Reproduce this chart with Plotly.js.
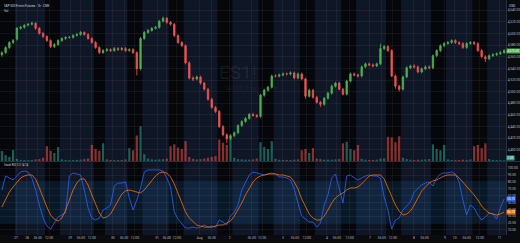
<!DOCTYPE html>
<html><head><meta charset="utf-8">
<script src="https://cdn.plot.ly/plotly-3.0.1.min.js"></script>
<style>html,body{margin:0;padding:0;background:#0a0b0f;}#chart{width:520px;height:243px;}</style>
</head><body><div id="chart"></div>
<script>
// 2h bars, ES1!
const opens = [4563.5,4567.0,4575.75,4584.5,4590.0,4608.75,4610.5,4614.0,4615.75,4617.5,
4608.75,4600.0,4594.75,4587.75,4577.5,4581.0,4587.75,4591.25,4593.0,4593.25,
4596.5,4598.25,4601.75,4598.25,4591.25,4584.5,4575.75,4567.0,4570.5,4572.25,
4570.5,4574.0,4572.25,4574.0,4570.5,4572.25,4567.0,4539.25,4591.25,4601.75,
4605.25,4608.75,4610.5,4621.0,4626.0,4619.0,4615.75,4596.5,4584.5,4579.0,
4549.5,4523.5,4521.75,4525.25,4514.75,4504.25,4487.0,4473.0,4466.0,4440.0,
4426.0,4419.25,4424.5,4429.5,4441.75,4448.75,4454.0,4461.0,4459.25,4457.5,
4494.0,4502.5,4507.75,4527.0,4526.75,4528.75,4530.5,4530.25,4532.25,4523.5,
4530.5,4521.75,4492.25,4502.5,4490.5,4481.75,4478.25,4488.75,4497.5,4509.5,
4514.75,4504.25,4495.75,4518.25,4530.5,4528.75,4527.0,4542.75,4547.75,4546.0,
4544.25,4547.75,4574.0,4577.5,4570.5,4527.0,4509.5,4504.25,4525.25,4541.0,
4544.25,4542.5,4533.75,4539.25,4542.5,4541.0,4561.75,4570.5,4579.0,4582.75,
4584.5,4587.75,4584.25,4582.5,4575.75,4582.75,4584.5,4582.5,4570.5,4560.0,
4556.5,4561.75,4563.5,4565.25,4567.0];
const highs = [4569.5,4578,4587,4590.5,4611,4613,4616.5,4618,4620,4619.5,
4611,4602.5,4597,4590,4583.5,4590,4593.5,4595.5,4595.5,4598.5,
4600.5,4604,4603.5,4600.5,4593.5,4587,4578,4573,4575,4574.5,
4576.5,4576.5,4576.5,4576.5,4574.5,4574.5,4569.5,4594,4604,4607.5,
4611,4613,4623.5,4629,4628,4621.5,4618,4598.5,4587,4581.5,
4552,4526.5,4527.5,4527.5,4517,4506.5,4489.5,4475.5,4468.5,4442.5,
4428.5,4427,4432,4444,4451,4456.5,4463.5,4463.5,4461.5,4496.5,
4505,4510,4529.5,4530,4531,4533,4533,4535,4534.5,4533,
4533,4524,4505,4505,4493,4484,4491,4500,4512,4517,
4517,4506.5,4520.5,4533,4533,4531,4545,4550,4550,4548.5,
4550,4582.5,4580,4580,4573,4529.5,4512,4527.5,4543.5,4546.5,
4547,4545,4541.5,4545,4545,4564,4573,4581.5,4585,4587,
4590,4590,4586.5,4585,4585,4587,4587,4585,4573,4562.5,
4564,4566,4567.5,4569.5,4573];
const lows = [4560,4565,4573.5,4582,4587.5,4606.5,4608,4612,4613.5,4606,
4598,4592,4585.5,4575,4575,4578.5,4585.5,4589,4591,4591,
4594.5,4596,4596,4589,4582,4573.5,4564.5,4565,4568.5,4568,
4568.5,4570,4570,4568.5,4568.5,4564.5,4528,4536.5,4589,4599.5,
4603,4606.5,4608,4619,4616.5,4613.5,4594,4582,4576.5,4547,
4521,4518,4519.5,4512,4502,4484.5,4470.5,4463.5,4437.5,4423.5,
4412,4417,4422,4427,4439.5,4446.5,4452,4457,4455,4455,
4491.5,4500,4505.5,4524.5,4524.5,4526.5,4528,4528,4521,4521,
4519.5,4488,4490,4488,4479.5,4474,4476,4486.5,4495,4507,
4502,4493.5,4493.5,4516,4526.5,4524.5,4524.5,4540.5,4543.5,4542,
4542,4545.5,4571.5,4568,4525,4505,4500,4502,4523,4538.5,
4540,4531.5,4531.5,4537,4538.5,4538.5,4559.5,4568,4576.5,4580.5,
4582,4582,4580,4573.5,4573.5,4580.5,4580,4568,4557.5,4551,
4554,4559.5,4561,4563,4565];
const closes = [4567.0,4575.75,4584.5,4587.75,4608.75,4610.5,4614.0,4615.75,4617.5,4608.75,
4600.0,4594.75,4587.75,4577.5,4581.0,4587.75,4591.25,4593.0,4593.25,4596.5,
4598.25,4601.75,4598.25,4591.25,4584.5,4575.75,4567.0,4570.5,4572.25,4570.5,
4574.0,4572.25,4574.0,4570.5,4572.25,4567.0,4539.25,4591.25,4601.75,4605.25,
4608.75,4610.5,4621.0,4626.0,4619.0,4615.75,4596.5,4584.5,4579.0,4549.5,
4523.5,4521.75,4525.25,4514.75,4504.25,4487.0,4473.0,4466.0,4440.0,4426.0,
4419.25,4424.5,4429.5,4441.75,4448.75,4454.0,4461.0,4459.25,4457.5,4494.0,
4502.5,4507.75,4527.0,4526.75,4528.75,4530.5,4530.25,4532.25,4523.5,4530.5,
4521.75,4492.25,4502.5,4490.5,4481.75,4478.25,4488.75,4497.5,4509.5,4514.75,
4504.25,4495.75,4518.25,4530.5,4528.75,4527.0,4542.75,4547.75,4546.0,4544.25,
4547.75,4574.0,4577.5,4570.5,4527.0,4509.5,4504.25,4525.25,4541.0,4544.25,
4542.5,4533.75,4539.25,4542.5,4541.0,4561.75,4570.5,4579.0,4582.75,4584.5,
4587.75,4584.25,4582.5,4575.75,4582.75,4584.5,4582.5,4570.5,4560.0,4556.5,
4561.75,4563.5,4565.25,4567.0,4570.5];
const volumes = [37000,22000,15000,41000,8000,4000,3500,3000,4000,6000,
7500,12000,55000,38000,30000,52000,6000,4000,3000,3500,
4000,5000,7000,9000,60000,45000,38000,66000,6000,4000,
3500,3500,4000,6000,48000,40000,95000,130000,25000,9000,
6000,5000,6000,7000,9000,55000,62000,50000,45000,74000,
15000,8000,6000,7000,9000,12000,15000,18000,80000,68000,
60000,82000,12000,7000,6000,5000,5000,6000,9000,70000,
52000,45000,74000,8000,5000,4000,4000,4000,5000,6000,
40000,45000,30000,48000,9000,7000,5000,5000,5000,6000,
7000,66000,72000,45000,40000,60000,8000,5000,4000,4000,
5000,9000,10000,90000,88000,70000,92000,12000,7000,5000,
4000,5000,5000,6000,7000,62000,45000,40000,60000,6000,
4000,3500,3500,5000,4000,6000,55000,60000,48000,66000,
7000,4000,3500,3000,2500];
const stochK = [68,88.8,85.9,82.9,88.8,94.6,96,94.6,85.9,68.3,
46.3,27.3,15.6,11.2,20,28.8,31.7,34.6,88.8,93.2,
91.7,90.2,68.3,42,27.3,24.4,27.3,39,42,46.3,
74.1,78.5,78.5,80,56.6,39,53.7,71.2,94.6,97.6,
97.6,97.6,97.6,96,85.9,72.7,36.1,25.8,18.5,12.7,
12.7,14.1,12.7,14.1,17.1,14.1,15.6,14.1,24.4,21.5,
17.1,30.2,36.1,46.3,68.3,78.5,90.2,94.6,93.2,91.7,
90.2,91.7,93.2,91.7,87.3,87.3,85.9,82.9,69.8,49.3,
30.2,25.8,21.5,21.5,14.1,20,46.3,61,85.9,91.7,
68.3,49.3,88.8,90.2,85.9,82.9,85.9,88.8,90.2,88.8,
88.8,85.9,58,39,11.2,24.4,27.3,39,44.9,50.7,
65.4,71.2,75.6,78.5,80,74.1,85.9,91.7,93.2,93.2,
94.6,91.7,80,53.7,31.7,46.3,42,31.7,24.4,28.8,
34.6,33.2,25.8,42,55.1];
const stochD = [43.4,53.7,65.4,72.7,80,85.9,88.8,90.2,90.2,84.4,
71.2,56.6,43.4,31.7,25.8,22.9,27.3,39,55.1,68.3,
78.5,84.4,84.4,75.6,61,46.3,34.6,27.3,28.8,33.2,
43.4,53.7,62.4,66.8,68.3,66.8,65.4,63.9,68.3,75.6,
81.5,88.8,93.2,94.6,93.2,87.3,77.1,63.9,49.3,36.1,
27.3,21.5,17.1,15.6,14.1,14.1,14.1,15.6,17.1,17.1,
20,22.9,30.2,39,49.3,61,71.2,80,85.9,88.8,
90.2,91.7,91.7,91.7,90.2,90.2,88.8,87.3,80,69.8,
55.1,43.4,33.2,27.3,24.4,24.4,30.2,39,49.3,56.6,
61,63.9,68.3,71.2,71.2,72.7,77.1,82.9,88.8,90.2,
90.2,90.2,84.4,71.2,59.5,46.3,37.6,31.7,33.2,37.6,
46.3,56.6,66.8,72.7,78.5,81.5,82.9,85.9,88.8,90.2,
90.2,90.2,85.9,80,74.1,68.3,61,53.7,44.9,39,
34.6,33.2,31.7,33.2,36.1];
// regular trading hours sessions, in bar positions
const rthStart = [-0.5,11.5,24.5,33.5,44.5,57.5,68.5,79.5,90.5,102.5,114.5,125.5];
const rthEnd = [3.5,15.5,27.5,37.5,48.5,61.5,72.5,83.5,94.5,106.5,118.5,129.5];
// time axis labels
const xTickPos = [3.8,6.7,9.6,12.6,18.2,21.1,24.0,29.6,32.6,35.5,41.4,44.0,46.7,52.8,56.0,60.8,66.7,69.4,75.0,78.2,81.4,86.7,89.4,92.8,98.2,101.4,104.3,109.9,112.8,118.2,120.8,124.0,127.5,132.8];
const xTickText = ["27","28","06:00","12:00","29","06:00","12:00","30","06:00","12:00","31","06:00","12:00","Aug","06:00","2","06:00","12:00","3","06:00","12:00","4","06:00","12:00","7","06:00","12:00","8","06:00","9","10","06:00","12:00","11"];

const xIdx = closes.map((_, i) => i);
const volColors = closes.map((c, i) => c >= opens[i] ? 'rgba(38,166,154,0.55)' : 'rgba(239,83,80,0.55)');
const n = closes.length;
const fmt = v => v.toLocaleString('en-US', {minimumFractionDigits:2, maximumFractionDigits:2});

const traces = [
  {type:'candlestick', x:xIdx, open:opens, high:highs, low:lows, close:closes, xaxis:'x', yaxis:'y',
   increasing:{line:{color:'#4caf50',width:0.8}, fillcolor:'#4caf50'},
   decreasing:{line:{color:'#ef5350',width:0.8}, fillcolor:'#ef5350'},
   whiskerwidth:0, hoverinfo:'skip'},
  {type:'bar', x:xIdx, y:volumes, xaxis:'x', yaxis:'y3', marker:{color:volColors, line:{width:0}}, hoverinfo:'skip'},
  {type:'scatter', mode:'lines', x:xIdx, y:stochK, xaxis:'x', yaxis:'y2', line:{color:'#2962ff', width:0.8}, hoverinfo:'skip'},
  {type:'scatter', mode:'lines', x:xIdx, y:stochD, xaxis:'x', yaxis:'y2', line:{color:'#ff6d00', width:0.8}, hoverinfo:'skip'}
];

const mainBottom = 0.3149, stochTop = 0.3106;
const shapes = [];
rthStart.forEach((s, i) => shapes.push({type:'rect', xref:'x', yref:'paper', x0:s, x1:rthEnd[i], y0:0, y1:1,
  fillcolor:'#06070a', line:{width:0}, layer:'below'}));
shapes.push({type:'rect', xref:'paper', yref:'y2', x0:0, x1:1, y0:20, y1:80, fillcolor:'rgba(33,150,243,0.12)', line:{width:0}, layer:'below'});
shapes.push({type:'line', xref:'paper', yref:'paper', x0:0, x1:1.03, y0:(mainBottom+stochTop)/2, y1:(mainBottom+stochTop)/2, line:{color:'#2a2e39', width:1}});

const gridCol = 'rgba(255,255,255,0.05)';
const axCommon = {zeroline:false, ticks:'', automargin:false, fixedrange:true};
const layout = {
  width:520, height:243,
  margin:{l:0, r:14, t:0, b:8, pad:0},
  paper_bgcolor:'#0a0b0f', plot_bgcolor:'#0f1626',
  showlegend:false, bargap:0.4, boxgap:0.45,
  font:{family:'Roboto, sans-serif', size:4, color:'#b2b5be'},
  xaxis:Object.assign({}, axCommon, {range:[-0.5, n - 0.5], anchor:'y2', tickmode:'array', tickvals:xTickPos, ticktext:xTickText,
    tickangle:0, showgrid:true, gridcolor:gridCol, gridwidth:1, showline:false, tickfont:{size:3.3, color:'#b2b5be'}, rangeslider:{visible:false}}),
  yaxis:Object.assign({}, axCommon, {domain:[mainBottom,1], range:[4381,4657.4], side:'right', tick0:4640, dtick:20,
    tickformat:',.2f', showgrid:true, gridcolor:gridCol, showline:true, linecolor:'#2a2e39', tickfont:{size:3.3, color:'#b2b5be'}}),
  yaxis2:Object.assign({}, axCommon, {domain:[0,stochTop], range:[2.5,109.2], side:'right', tick0:0, dtick:10,
    tickformat:'.2f', showgrid:true, gridcolor:gridCol, showline:true, linecolor:'#2a2e39', tickfont:{size:3.3, color:'#b2b5be'}}),
  yaxis3:Object.assign({}, axCommon, {overlaying:'y', range:[0,600000], visible:false, showgrid:false}),
  shapes:shapes,
  annotations:[
    {xref:'paper', yref:'paper', x:0.004, y:1, xanchor:'left', yanchor:'top', yshift:-1.5, showarrow:false,
     text:'S&P 500 E-mini Futures · 1h · CME', font:{size:3, color:'#d1d4dc'}},
    {xref:'paper', yref:'paper', x:0.004, y:1, xanchor:'left', yanchor:'top', yshift:-6.5, showarrow:false,
     text:'Vol', font:{size:3, color:'#d1d4dc'}},
    {xref:'paper', yref:'paper', x:0.004, y:0.298, xanchor:'left', yanchor:'middle', showarrow:false,
     text:'Stoch RSI 3 3 14 14', font:{size:2.8, color:'#d1d4dc'}},
    {xref:'paper', yref:'paper', x:0.47, y:0.69, xanchor:'center', yanchor:'middle', showarrow:false,
     text:'ES1!', font:{size:19, color:'rgba(255,255,255,0.08)'}},
    {xref:'paper', yref:'paper', x:0.496, y:0.625, xanchor:'center', yanchor:'middle', showarrow:false,
     text:'S&P 500 E-mini Futures', font:{size:5, color:'rgba(255,255,255,0.08)'}},
    {xref:'paper', yref:'paper', x:1, y:1, xanchor:'left', yanchor:'top', xshift:1, yshift:-2, showarrow:false,
     text:'USD', font:{size:3.3, color:'#d1d4dc'}},
    {xref:'paper', yref:'y', x:1, y:closes[n-1], xanchor:'left', yanchor:'middle', xshift:0, showarrow:false,
     text:fmt(closes[n-1]), bgcolor:'#4caf50', borderpad:0.2, font:{size:3.1, color:'#ffffff'}},
    {xref:'paper', yref:'paper', x:1, y:mainBottom, xanchor:'left', yanchor:'bottom', xshift:0, showarrow:false,
     text:(volumes[n-1]/1000).toFixed(1) + 'K', bgcolor:'#26a69a', borderpad:0.2, font:{size:3.1, color:'#ffffff'}},
    {xref:'paper', yref:'y2', x:1, y:stochK[n-1], xanchor:'left', yanchor:'middle', xshift:0, showarrow:false,
     text:stochK[n-1].toFixed(2), bgcolor:'#2962ff', borderpad:0.2, font:{size:3.1, color:'#ffffff'}},
    {xref:'paper', yref:'y2', x:1, y:stochD[n-1], xanchor:'left', yanchor:'middle', xshift:0, showarrow:false,
     text:stochD[n-1].toFixed(2), bgcolor:'#ff6d00', borderpad:0.2, font:{size:3.1, color:'#ffffff'}}
  ]
};
Plotly.newPlot('chart', traces, layout, {displayModeBar:false, staticPlot:true});
</script>
</body></html>
